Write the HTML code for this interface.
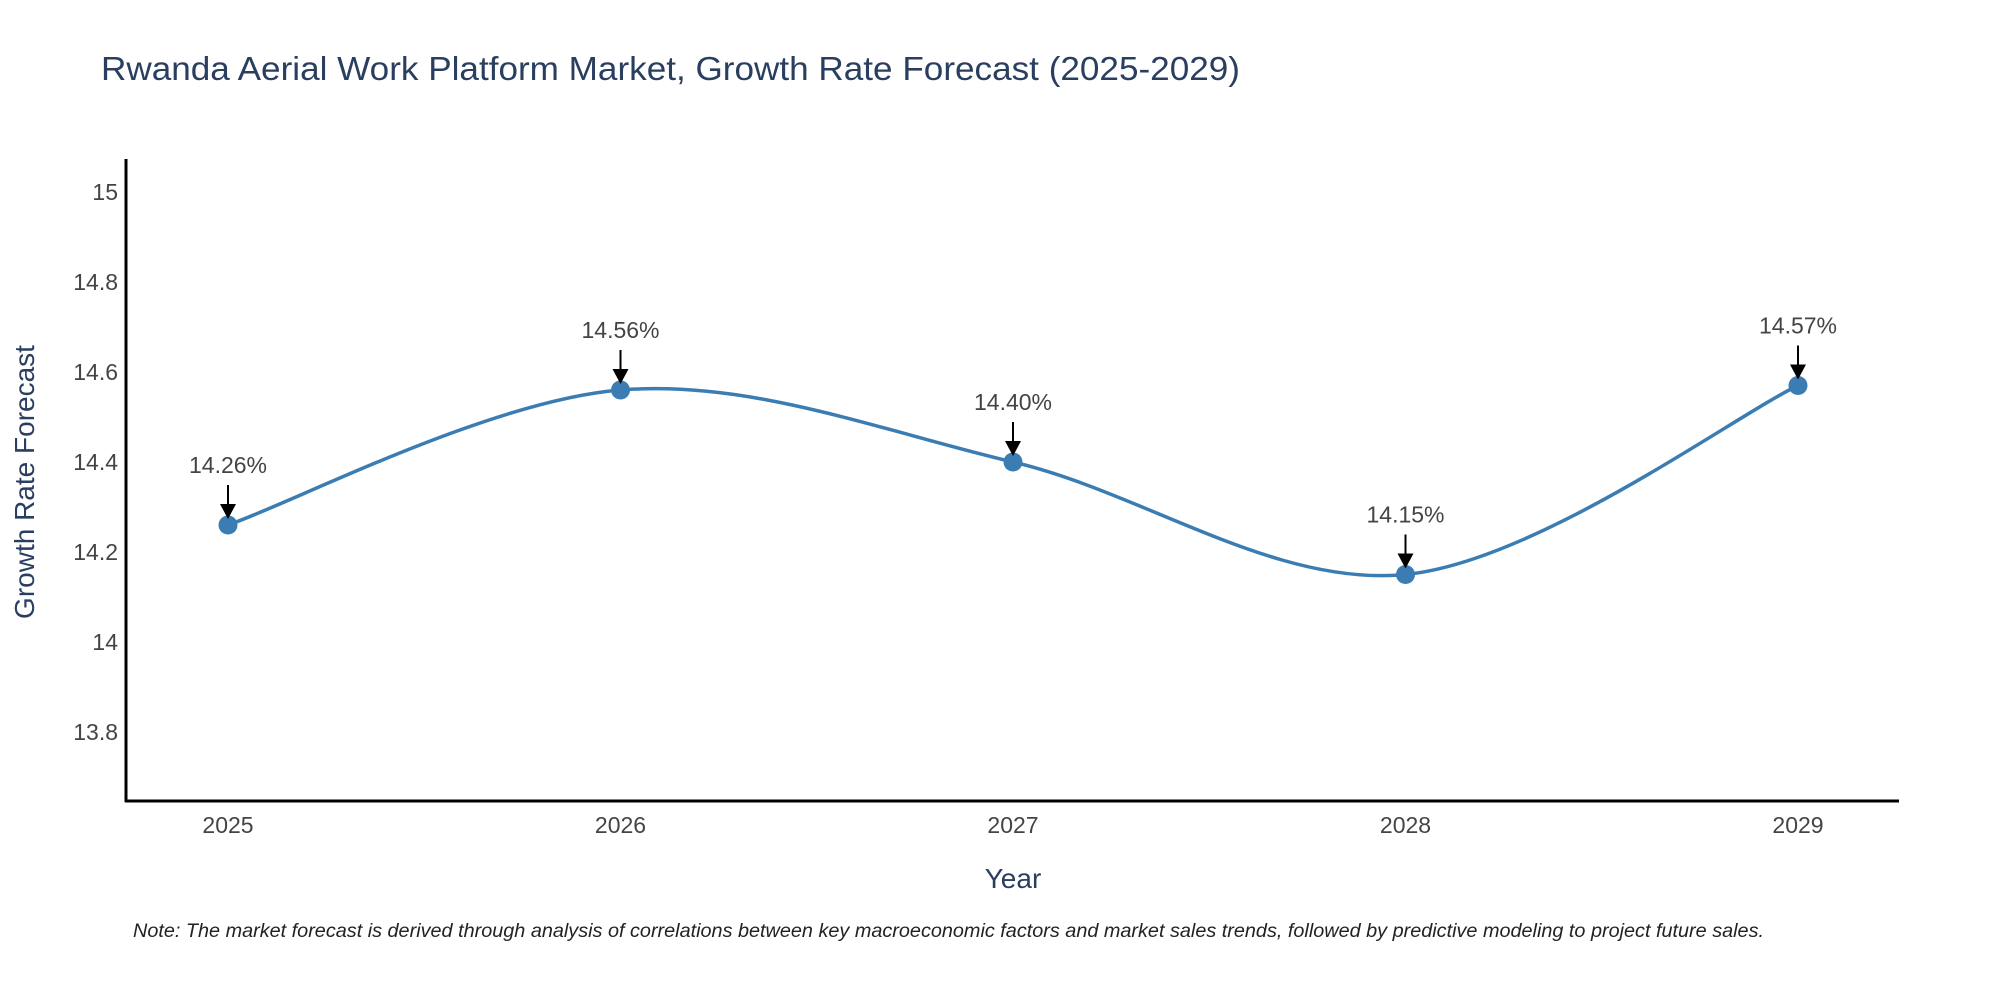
<!DOCTYPE html>
<html><head><meta charset="utf-8"><style>
body{margin:0;background:#fff;}
svg text{font-family:"Liberation Sans",sans-serif;fill:#444;}
</style></head><body>
<svg id="chart" width="2000" height="1000" viewBox="0 0 2000 1000" xmlns="http://www.w3.org/2000/svg">
<text x="101" y="80" font-size="33" textLength="1139" lengthAdjust="spacingAndGlyphs" style="fill:#2a3f5f">Rwanda Aerial Work Platform Market, Growth Rate Forecast (2025-2029)</text>
<g id="yticks"></g><g id="xticks"></g>
<line x1="126" y1="159" x2="126" y2="802" stroke="#000" stroke-width="3"/>
<line x1="125" y1="801" x2="1899" y2="801" stroke="#000" stroke-width="3"/>
<text transform="translate(34,482) rotate(-90)" text-anchor="middle" font-size="28" style="fill:#2a3f5f">Growth Rate Forecast</text>
<text x="1013" y="888" text-anchor="middle" font-size="28" style="fill:#2a3f5f">Year</text>
<g id="series"></g>
<text x="133" y="937" font-size="19" font-style="italic" textLength="1631" lengthAdjust="spacingAndGlyphs" style="fill:#222">Note: The market forecast is derived through analysis of correlations between key macroeconomic factors and market sales trends, followed by predictive modeling to project future sales.</text>
</svg>
<script>
const years = ["2025","2026","2027","2028","2029"];
const values = [14.26, 14.56, 14.40, 14.15, 14.57];
const labels = ["14.26%","14.56%","14.40%","14.15%","14.57%"];
const yTicks = [13.8, 14, 14.2, 14.4, 14.6, 14.8, 15];
const NS="http://www.w3.org/2000/svg";
function xScale(i){return 228 + i*392.5;}
function yScale(v){return 642 - (v-14)*450;}
function mk(tag,attrs,parent){const e=document.createElementNS(NS,tag);for(const k in attrs)e.setAttribute(k,attrs[k]);parent.appendChild(e);return e;}
const yg=document.getElementById('yticks'), xg=document.getElementById('xticks'), sg=document.getElementById('series');
yTicks.forEach(t=>{
  const e=mk('text',{x:118,y:yScale(t)+8,'text-anchor':'end','font-size':23},yg);
  
  
  e.textContent=String(t);
});
years.forEach((y,i)=>{
  const e=mk('text',{x:xScale(i),y:833,'text-anchor':'middle','font-size':23},xg);
  
  
  e.textContent=y;
});
const pts=values.map((v,i)=>[xScale(i),yScale(v)]);
let d='M'+pts[0][0]+','+pts[0][1];
for(let i=0;i<pts.length-1;i++){
  const p0=pts[Math.max(0,i-1)],p1=pts[i],p2=pts[i+1],p3=pts[Math.min(pts.length-1,i+2)];
  const c1=[p1[0]+(p2[0]-p0[0])/6,p1[1]+(p2[1]-p0[1])/6];
  const c2=[p2[0]-(p3[0]-p1[0])/6,p2[1]-(p3[1]-p1[1])/6];
  d+=' C'+c1+' '+c2+' '+p2;
}
const line=mk('path',{d:d,fill:'none',stroke:'#3b7db3','stroke-width':3.5},sg);


pts.forEach((p,i)=>{
  const c=mk('circle',{cx:p[0],cy:p[1],r:9.5,fill:'#3b7db3'},sg);
  
  
  const a=mk('line',{x1:p[0],y1:p[1]-40,x2:p[0],y2:p[1]-20,stroke:'#000','stroke-width':2},sg);
  
  
  const h=mk('path',{d:`M${p[0]-8},${p[1]-21} L${p[0]+8},${p[1]-21} L${p[0]},${p[1]-6} Z`,fill:'#000'},sg);
  
  
  const t=mk('text',{x:p[0],y:p[1]-52,'text-anchor':'middle','font-size':23},sg);
  
  
  t.textContent=labels[i];
});
</script>
</body></html>
